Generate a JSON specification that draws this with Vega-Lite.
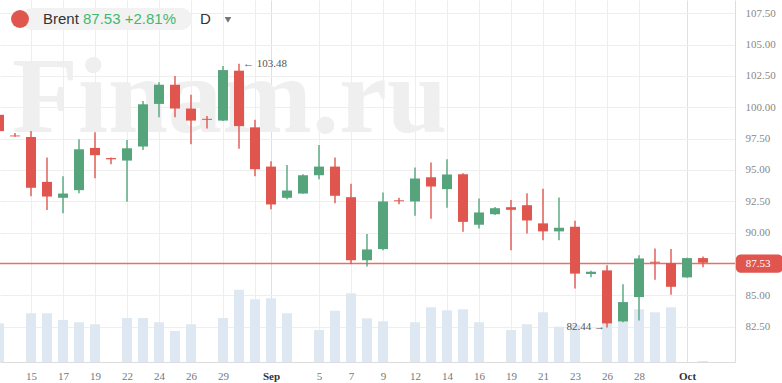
{
  "$schema": "https://vega.github.io/schema/vega-lite/v6.json",
  "width": 735,
  "height": 362,
  "autosize": {"type": "none"},
  "padding": {"left": 0, "top": 0, "right": 47, "bottom": 21},
  "background": "white",
  "config": {
    "view": {"stroke": null},
    "scale": {"continuousPadding": 0},
    "axis": {"labelOverlap": false, "labelFlush": false, "ticks": false, "title": null, "tickCount": 60, "domainColor": "#dcdcdc", "gridColor": "#eeeeee", "labelFont": "Liberation Serif", "labelFontSize": 11}
  },
  "datasets": {
    "candles": [
      {"d": "2022-08-12", "i": 0, "o": 99.4, "h": 99.6, "l": 97.9, "c": 98.1, "v": 38.7},
      {"d": "2022-08-14", "i": 1, "o": 97.75, "h": 97.95, "l": 97.65, "c": 97.68, "v": 0},
      {"d": "2022-08-15", "i": 2, "o": 97.63, "h": 98.1, "l": 92.9, "c": 93.58, "v": 48.7},
      {"d": "2022-08-16", "i": 3, "o": 94.05, "h": 96.0, "l": 91.8, "c": 92.88, "v": 48.7},
      {"d": "2022-08-17", "i": 4, "o": 92.78, "h": 94.5, "l": 91.55, "c": 93.12, "v": 42},
      {"d": "2022-08-18", "i": 5, "o": 93.39, "h": 97.45, "l": 93.15, "c": 96.65, "v": 39.7},
      {"d": "2022-08-19", "i": 6, "o": 96.76, "h": 98.0, "l": 94.34, "c": 96.18, "v": 37.7},
      {"d": "2022-08-21", "i": 7, "o": 95.95, "h": 96.0, "l": 95.45, "c": 95.85, "v": 0},
      {"d": "2022-08-22", "i": 8, "o": 95.75, "h": 97.4, "l": 92.46, "c": 96.73, "v": 44},
      {"d": "2022-08-23", "i": 9, "o": 96.87, "h": 100.5, "l": 96.6, "c": 100.24, "v": 44},
      {"d": "2022-08-24", "i": 10, "o": 100.27, "h": 102.0, "l": 99.2, "c": 101.8, "v": 39.7},
      {"d": "2022-08-25", "i": 11, "o": 101.8, "h": 102.5, "l": 99.2, "c": 99.9, "v": 31},
      {"d": "2022-08-26", "i": 12, "o": 99.9, "h": 101.0, "l": 97.05, "c": 98.94, "v": 37.7},
      {"d": "2022-08-28", "i": 13, "o": 99.08, "h": 99.3, "l": 98.3, "c": 99.0, "v": 0},
      {"d": "2022-08-29", "i": 14, "o": 98.94, "h": 103.3, "l": 98.9, "c": 102.97, "v": 44},
      {"d": "2022-08-30", "i": 15, "o": 102.92, "h": 103.48, "l": 96.7, "c": 98.5, "v": 72.3},
      {"d": "2022-08-31", "i": 16, "o": 98.4, "h": 99.0, "l": 94.5, "c": 95.06, "v": 62.7},
      {"d": "2022-09-01", "i": 17, "o": 95.27, "h": 95.7, "l": 91.87, "c": 92.25, "v": 63.7},
      {"d": "2022-09-02", "i": 18, "o": 92.78, "h": 95.4, "l": 92.67, "c": 93.36, "v": 48.7},
      {"d": "2022-09-04", "i": 19, "o": 93.12, "h": 94.65, "l": 93.1, "c": 94.58, "v": 0},
      {"d": "2022-09-05", "i": 20, "o": 94.58, "h": 97.0, "l": 94.26, "c": 95.27, "v": 32},
      {"d": "2022-09-06", "i": 21, "o": 95.27, "h": 96.0, "l": 92.35, "c": 92.94, "v": 51.3},
      {"d": "2022-09-07", "i": 22, "o": 92.83, "h": 93.9, "l": 87.5, "c": 87.8, "v": 68.7},
      {"d": "2022-09-08", "i": 23, "o": 87.8, "h": 89.9, "l": 87.3, "c": 88.66, "v": 43.7},
      {"d": "2022-09-09", "i": 24, "o": 88.69, "h": 93.2, "l": 88.6, "c": 92.49, "v": 40.7},
      {"d": "2022-09-11", "i": 25, "o": 92.58, "h": 92.78, "l": 92.27, "c": 92.5, "v": 0},
      {"d": "2022-09-12", "i": 26, "o": 92.49, "h": 95.2, "l": 91.35, "c": 94.32, "v": 39.7},
      {"d": "2022-09-13", "i": 27, "o": 94.42, "h": 95.6, "l": 91.1, "c": 93.68, "v": 54.7},
      {"d": "2022-09-14", "i": 28, "o": 93.47, "h": 95.86, "l": 91.98, "c": 94.64, "v": 51.7},
      {"d": "2022-09-15", "i": 29, "o": 94.66, "h": 94.74, "l": 90.07, "c": 90.86, "v": 52.7},
      {"d": "2022-09-16", "i": 30, "o": 90.63, "h": 92.73, "l": 90.34, "c": 91.61, "v": 39.7},
      {"d": "2022-09-18", "i": 31, "o": 91.47, "h": 92.05, "l": 91.4, "c": 91.95, "v": 0},
      {"d": "2022-09-19", "i": 32, "o": 92.03, "h": 92.6, "l": 88.6, "c": 91.82, "v": 32},
      {"d": "2022-09-20", "i": 33, "o": 92.19, "h": 93.15, "l": 89.94, "c": 90.97, "v": 37.7},
      {"d": "2022-09-21", "i": 34, "o": 90.74, "h": 93.5, "l": 89.4, "c": 90.1, "v": 49.7},
      {"d": "2022-09-22", "i": 35, "o": 90.1, "h": 92.8, "l": 89.4, "c": 90.39, "v": 35.3},
      {"d": "2022-09-23", "i": 36, "o": 90.47, "h": 90.95, "l": 85.55, "c": 86.73, "v": 37},
      {"d": "2022-09-25", "i": 37, "o": 86.7, "h": 86.95, "l": 86.45, "c": 86.88, "v": 0},
      {"d": "2022-09-26", "i": 38, "o": 86.99, "h": 87.4, "l": 82.44, "c": 82.76, "v": 40},
      {"d": "2022-09-27", "i": 39, "o": 82.92, "h": 85.88, "l": 82.85, "c": 84.46, "v": 50.3},
      {"d": "2022-09-28", "i": 40, "o": 84.86, "h": 88.2, "l": 83.0, "c": 87.94, "v": 52.7},
      {"d": "2022-09-29", "i": 41, "o": 87.68, "h": 88.74, "l": 86.24, "c": 87.6, "v": 49.7},
      {"d": "2022-09-30", "i": 42, "o": 87.57, "h": 88.69, "l": 85.05, "c": 85.68, "v": 54.7},
      {"d": "2022-10-02", "i": 43, "o": 86.43, "h": 88.0, "l": 86.4, "c": 87.97, "v": 0},
      {"d": "2022-10-03", "i": 44, "o": 87.97, "h": 88.1, "l": 87.23, "c": 87.6, "v": 1}
    ]
  },
  "layer": [
    {
      "data": {"name": "candles"},
      "transform": [{"filter": "datum.v > 0"}],
      "mark": {"type": "bar", "width": 10, "color": "#dde8f3"},
      "encoding": {
        "x": {
          "field": "i", "type": "quantitative",
          "scale": {"domain": [0.0625, 46], "nice": false, "zero": false, "padding": 0},
          "axis": {
            "title": null,
            "values": [2, 4, 6, 8, 10, 12, 14, 16, 17, 20, 22, 24, 26, 28, 30, 32, 34, 36, 38, 40, 43],
            "tickCount": 60,
            "labelExpr": "['','','15','','17','','19','','22','','24','','26','','29','','','Sep','','','5','','7','','9','','12','','14','','16','','19','','21','','23','','26','','28','','','Oct'][datum.value]",
            "ticks": false,
            "domain": true,
            "domainColor": "#dcdcdc",
            "grid": true,
            "gridColor": {"condition": {"test": "datum.value == 17 || datum.value == 43", "value": "#e0e0e0"}, "value": "#eeeeee"},
            "labelFont": "Liberation Serif",
            "labelFontSize": 11,
            "labelColor": {"condition": {"test": "datum.value == 17 || datum.value == 43", "value": "#333333"}, "value": "#777777"},
            "labelFontWeight": {"condition": {"test": "datum.value == 17 || datum.value == 43", "value": "bold"}, "value": "normal"},
            "labelPadding": 8,
            "labelOverlap": false,
            "labelFlush": false
          }
        },
        "y": {"field": "v", "type": "quantitative", "scale": {"domain": [0, 362], "nice": false, "zero": true, "padding": 0}, "axis": null}
      }
    },
    {
      "layer": [
        {
          "data": {"values": [{"t": "Finam.ru", "i": 0.8125, "y": 98.03}]},
          "mark": {"type": "text", "font": "Liberation Serif", "fontWeight": "bold", "fontSize": 108, "align": "left", "baseline": "alphabetic", "color": "#efefef"},
          "encoding": {
            "x": {"field": "i", "type": "quantitative", "scale": {"domain": [0.0625, 46], "nice": false, "zero": false, "padding": 0}, "axis": {"title": null}},
            "y": {"field": "y", "type": "quantitative", "scale": {"domain": [79.68, 108.56], "nice": false, "zero": false, "padding": 0}, "axis": {"title": null}},
            "text": {"field": "t"}
          }
        },
        {
          "data": {"values": [{"p": 87.53}]},
          "mark": {"type": "rule", "color": "#e8706b", "strokeWidth": 1.5},
          "encoding": {
            "y": {"field": "p", "type": "quantitative", "scale": {"domain": [79.68, 108.56], "nice": false, "zero": false, "padding": 0}, "axis": {"title": null}}
          }
        },
        {
          "data": {"name": "candles"},
          "mark": {"type": "rule", "strokeWidth": 1.4},
          "encoding": {
            "x": {"field": "i", "type": "quantitative", "scale": {"domain": [0.0625, 46], "nice": false, "zero": false, "padding": 0}, "axis": {"title": null}},
            "y": {"field": "l", "type": "quantitative", "scale": {"domain": [79.68, 108.56], "nice": false, "zero": false, "padding": 0}, "axis": {"title": null}},
            "y2": {"field": "h"},
            "color": {"condition": {"test": "datum.c > datum.o", "value": "#55a47c"}, "value": "#e0564f"}
          }
        },
        {
          "data": {"name": "candles"},
          "mark": {"type": "bar", "width": 10},
          "encoding": {
            "x": {
              "field": "i", "type": "quantitative",
              "scale": {"domain": [0.0625, 46], "nice": false, "zero": false, "padding": 0},
              "axis": {
                "title": null,
                "values": [2, 4, 6, 8, 10, 12, 14, 16, 17, 20, 22, 24, 26, 28, 30, 32, 34, 36, 38, 40, 43],
                "tickCount": 60,
                "labelExpr": "['','','15','','17','','19','','22','','24','','26','','29','','','Sep','','','5','','7','','9','','12','','14','','16','','19','','21','','23','','26','','28','','','Oct'][datum.value]",
                "ticks": false,
                "domain": true,
                "domainColor": "#dcdcdc",
                "grid": true,
                "gridColor": {"condition": {"test": "datum.value == 17 || datum.value == 43", "value": "#e0e0e0"}, "value": "#eeeeee"},
                "labelFont": "Liberation Serif",
                "labelFontSize": 11,
                "labelColor": {"condition": {"test": "datum.value == 17 || datum.value == 43", "value": "#333333"}, "value": "#777777"},
                "labelFontWeight": {"condition": {"test": "datum.value == 17 || datum.value == 43", "value": "bold"}, "value": "normal"},
                "labelPadding": 8,
                "labelOverlap": false,
                "labelFlush": false
              }
            },
            "y": {
              "field": "o", "type": "quantitative",
              "scale": {"domain": [79.68, 108.56], "nice": false, "zero": false, "padding": 0},
              "axis": {
                "title": null,
                "orient": "right",
                "values": [82.5, 85, 90, 92.5, 95, 97.5, 100, 102.5, 105, 107.5],
                "tickCount": 60,
                "format": ".2f",
                "ticks": false,
                "domain": true,
                "domainColor": "#dcdcdc",
                "grid": true,
                "gridColor": "#eeeeee",
                "labelFont": "Liberation Serif",
                "labelFontSize": 11,
                "labelColor": "#888888",
                "labelPadding": 10,
                "labelOverlap": false,
                "labelFlush": false
              }
            },
            "y2": {"field": "c"},
            "color": {"condition": {"test": "datum.c > datum.o", "value": "#55a47c"}, "value": "#e0564f"}
          }
        },
        {
          "data": {"values": [{"i": 15, "y": 103.48, "t": "← 103.48"}]},
          "mark": {"type": "text", "font": "Liberation Serif", "fontSize": 11, "color": "#555555", "baseline": "middle", "align": "left", "dx": 4},
          "encoding": {
            "x": {"field": "i", "type": "quantitative", "scale": {"domain": [0.0625, 46], "nice": false, "zero": false, "padding": 0}, "axis": {"title": null}},
            "y": {"field": "y", "type": "quantitative", "scale": {"domain": [79.68, 108.56], "nice": false, "zero": false, "padding": 0}, "axis": {"title": null}},
            "text": {"field": "t"}
          }
        },
        {
          "data": {"values": [{"i": 38, "y": 82.44, "t": "82.44 →"}]},
          "mark": {"type": "text", "font": "Liberation Serif", "fontSize": 11, "color": "#555555", "baseline": "middle", "align": "right", "dx": -2},
          "encoding": {
            "x": {"field": "i", "type": "quantitative", "scale": {"domain": [0.0625, 46], "nice": false, "zero": false, "padding": 0}, "axis": {"title": null}},
            "y": {"field": "y", "type": "quantitative", "scale": {"domain": [79.68, 108.56], "nice": false, "zero": false, "padding": 0}, "axis": {"title": null}},
            "text": {"field": "t"}
          }
        },
        {
          "data": {"values": [{"i": 46.05, "i2": 49, "y": 86.81, "y2": 88.25}]},
          "mark": {"type": "rect", "color": "#e0564f", "cornerRadius": 5, "clip": false},
          "encoding": {
            "x": {"field": "i", "type": "quantitative", "scale": {"domain": [0.0625, 46], "nice": false, "zero": false, "padding": 0}, "axis": {"title": null}},
            "x2": {"field": "i2"},
            "y": {"field": "y", "type": "quantitative", "scale": {"domain": [79.68, 108.56], "nice": false, "zero": false, "padding": 0}, "axis": {"title": null}},
            "y2": {"field": "y2"}
          }
        },
        {
          "data": {"values": [{"i": 47.45, "y": 87.53, "t": "87.53"}]},
          "mark": {"type": "text", "font": "Liberation Serif", "fontSize": 11, "color": "white", "align": "center", "baseline": "middle", "clip": false},
          "encoding": {
            "x": {"field": "i", "type": "quantitative", "scale": {"domain": [0.0625, 46], "nice": false, "zero": false, "padding": 0}, "axis": {"title": null}},
            "y": {"field": "y", "type": "quantitative", "scale": {"domain": [79.68, 108.56], "nice": false, "zero": false, "padding": 0}, "axis": {"title": null}},
            "text": {"field": "t"}
          }
        },
        {
          "data": {"values": [{"i": 1.4, "i2": 12.06, "y": 107.92, "y2": 106.17}]},
          "mark": {"type": "rect", "color": "#f2f2f2", "cornerRadius": 11},
          "encoding": {
            "x": {"field": "i", "type": "quantitative", "scale": {"domain": [0.0625, 46], "nice": false, "zero": false, "padding": 0}, "axis": {"title": null}},
            "x2": {"field": "i2"},
            "y": {"field": "y", "type": "quantitative", "scale": {"domain": [79.68, 108.56], "nice": false, "zero": false, "padding": 0}, "axis": {"title": null}},
            "y2": {"field": "y2"}
          }
        },
        {
          "data": {"values": [{"i": 1.3125, "y": 107.045, "s": "circle", "sz": 320, "c": "#e0564f"}, {"i": 14.31, "y": 106.97, "s": "triangle-down", "sz": 45, "c": "#777777"}]},
          "mark": {"type": "point", "filled": true, "opacity": 1},
          "encoding": {
            "x": {"field": "i", "type": "quantitative", "scale": {"domain": [0.0625, 46], "nice": false, "zero": false, "padding": 0}, "axis": {"title": null}},
            "y": {"field": "y", "type": "quantitative", "scale": {"domain": [79.68, 108.56], "nice": false, "zero": false, "padding": 0}, "axis": {"title": null}},
            "shape": {"field": "s", "type": "nominal", "scale": null},
            "size": {"field": "sz", "type": "quantitative", "scale": null},
            "color": {"field": "c", "type": "nominal", "scale": null}
          }
        },
        {
          "data": {"values": [
            {"i": 2.75, "y": 106.65, "t": "Brent", "c": "#333333"},
            {"i": 5.25, "y": 106.65, "t": "87.53 +2.81%", "c": "#3fb96f"},
            {"i": 12.56, "y": 106.65, "t": "D", "c": "#333333"}
          ]},
          "mark": {"type": "text", "font": "Liberation Sans", "fontSize": 15, "align": "left", "baseline": "alphabetic"},
          "encoding": {
            "x": {"field": "i", "type": "quantitative", "scale": {"domain": [0.0625, 46], "nice": false, "zero": false, "padding": 0}, "axis": {"title": null}},
            "y": {"field": "y", "type": "quantitative", "scale": {"domain": [79.68, 108.56], "nice": false, "zero": false, "padding": 0}, "axis": {"title": null}},
            "text": {"field": "t"},
            "color": {"field": "c", "type": "nominal", "scale": null}
          }
        }
      ]
    }
  ],
  "resolve": {"scale": {"y": "independent"}}
}
